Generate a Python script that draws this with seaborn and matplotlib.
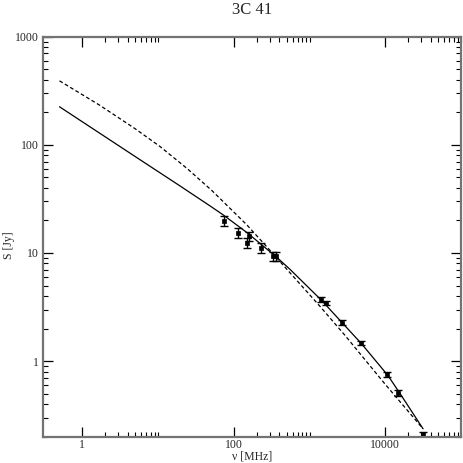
import numpy as np
import pandas as pd
import matplotlib
matplotlib.use("Agg")
import matplotlib.pyplot as plt
from matplotlib.ticker import FixedLocator, FuncFormatter, LogLocator, NullFormatter
import seaborn as sns

freq_mhz = [74, 112, 160, 150, 232, 330, 365, 1410, 1640, 2720, 4850, 10700, 14800, 31500]
flux_jy = [19.7, 15.4, 14.3, 12.4, 11.2, 9.4, 9.4, 3.70, 3.44, 2.27, 1.47, 0.753, 0.51, 0.21]
flux_err = [2.1, 1.6, 1.5, 1.3, 1.1, 0.9, 0.9, 0.2, 0.17, 0.11, 0.07, 0.04, 0.03, 0.012]

# fitted spectra, sampled along the drawn curves
solid_freq = [0.50, 4.96, 19.5, 48.4, 72.5, 150, 367, 550, 1440, 4850, 10900, 15500, 31500]
solid_flux = [225, 78.2, 41.7, 27.3, 22.5, 15.4, 9.16, 7.08, 3.65, 1.45, 0.733, 0.507, 0.237]

dashed_freq = [0.50, 1.71, 4.96, 10.6, 23.8, 51.4, 147.6, 300, 550, 1370, 2920, 9860, 31500]
dashed_flux = [391, 231.7, 141.3, 96.6, 61.0, 37.8, 18.3, 10.6, 6.58, 3.22, 1.74, 0.617, 0.237]

sns.set_style("ticks")
plt.rcParams['font.family'] = ['Liberation Serif', 'DejaVu Serif']

fig = plt.figure(figsize=(4.63, 4.63), dpi=100)
ax = fig.add_axes([0.0922, 0.0568, 0.9035, 0.8639])

solid = pd.DataFrame({'freq': solid_freq, 'flux': solid_flux})
dashed = pd.DataFrame({'freq': dashed_freq, 'flux': dashed_flux})
points = pd.DataFrame({'freq': freq_mhz, 'flux': flux_jy, 'err': flux_err})

sns.lineplot(data=solid, x='freq', y='flux', ax=ax, color='k', lw=0.9, sort=False)
sns.lineplot(data=dashed, x='freq', y='flux', ax=ax, color='k', lw=0.9, sort=False,
             linestyle=(0, (3, 2)))
ax.errorbar(points['freq'], points['flux'], yerr=points['err'], fmt='none',
            ecolor='k', elinewidth=1, capsize=3, capthick=1)
sns.scatterplot(data=points, x='freq', y='flux', ax=ax, marker='s', s=12,
                color='k', edgecolor='k', linewidth=0.5)

ax.set_xscale('log')
ax.set_yscale('log')
ax.set_xlim(0.3, 1e5)
ax.set_ylim(0.2, 1000)

# x ticks every two decades, minor ticks only in the first decade after each
ax.xaxis.set_major_locator(FixedLocator([1, 100, 10000]))
ax.xaxis.set_minor_locator(FixedLocator([k * 10.0 ** m for m in (0, 2, 4) for k in range(2, 11)]))
ax.yaxis.set_major_locator(FixedLocator([1, 10, 100, 1000]))
ax.yaxis.set_minor_locator(LogLocator(base=10, subs=np.arange(2, 10)))
fmt = FuncFormatter(lambda v, p: f'{v:g}')
ax.xaxis.set_major_formatter(fmt)
ax.yaxis.set_major_formatter(fmt)
ax.xaxis.set_minor_formatter(NullFormatter())
ax.yaxis.set_minor_formatter(NullFormatter())

ax.tick_params(which='both', direction='in', top=True, right=True, color='k',
               labelsize=8.5)
ax.tick_params(axis='x', pad=2)
ax.tick_params(axis='y', pad=2.5)
ax.tick_params(which='major', length=7, width=0.9)
ax.tick_params(which='minor', length=3.5, width=0.8)
for s in ax.spines.values():
    s.set_color('0.45')
    s.set_linewidth(1.6)

ax.set_xlabel('ν [MHz]', fontsize=8.5, labelpad=-0.5)
ax.set_ylabel('S [Jy]', fontsize=8.5)
ax.yaxis.set_label_coords(-0.066, 0.48)
ax.set_title('3C 41', fontsize=12, pad=16)

fig.savefig('out.png', dpi=100)
